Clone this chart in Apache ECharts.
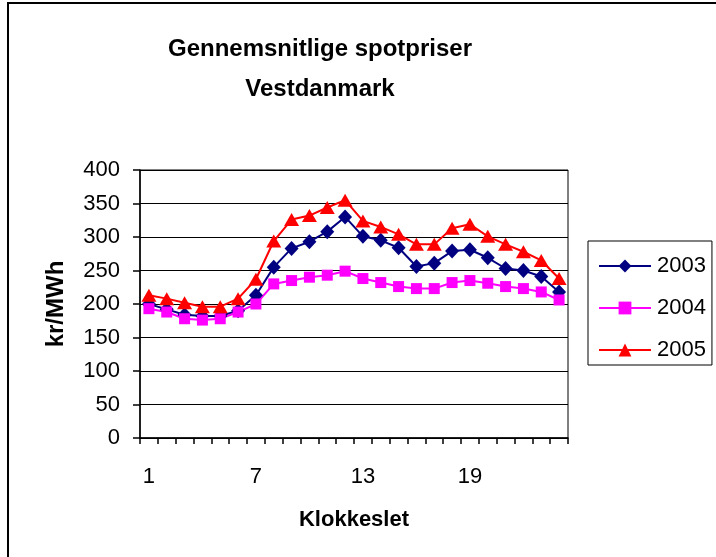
<!DOCTYPE html>
<html>
<head>
<meta charset="utf-8">
<title>Gennemsnitlige spotpriser Vestdanmark</title>
<script src="https://cdn.jsdelivr.net/npm/echarts@6/dist/echarts.min.js"></script>
<style>
  html, body { margin: 0; padding: 0; background: #fff; }
  #main { width: 716px; height: 557px; }
</style>
</head>
<body>
<div id="main"></div>
<script>
// hours of the day
var hours = ['1','2','3','4','5','6','7','8','9','10','11','12','13','14','15','16','17','18','19','20','21','22','23','24']
// kr/MWh
var y2003 = [200, 192, 184, 182, 182, 190, 213, 255, 283, 293, 308, 330, 301, 295, 284, 256, 261, 279, 281, 269, 253, 250, 241, 218]
var y2004 = [193, 188, 178, 176, 178, 188, 200, 230, 235, 240, 243, 249, 238, 232, 226, 223, 223, 232, 235, 231, 226, 223, 218, 206]
var y2005 = [213, 208, 202, 196, 196, 208, 237, 294, 326, 332, 344, 355, 324, 315, 304, 289, 289, 313, 319, 301, 289, 278, 265, 238]

var font = 'Liberation Sans, Arial, sans-serif'

var myChart = echarts.init(document.getElementById('main'))

function line(name, data, color, symbol, size) {
  return {
    name: name,
    type: 'line',
    data: data,
    symbol: symbol,
    symbolSize: size,
    showSymbol: true,
    showAllSymbol: true,
    animation: false,
    lineStyle: { color: color, width: 2 },
    itemStyle: { color: color },
  }
}

myChart.setOption({
  animation: false,
  textStyle: { fontFamily: font },
  title: {
    text: 'Gennemsnitlige spotpriser\nVestdanmark',
    left: 320,
    textAlign: 'center',
    top: 29,
    padding: 0,
    textStyle: { fontFamily: font, fontSize: 24, fontWeight: 'bold', color: '#000', lineHeight: 40 },
  },
  graphic: [
    {
      type: 'rect',
      shape: { x: 8, y: 3, width: 730, height: 580 },
      style: { fill: 'none', stroke: '#000', lineWidth: 2 },
      silent: true,
      z: 0,
    },
  ],
  legend: {
    orient: 'vertical',
    left: 588,
    top: 241,
    width: 127,
    padding: [14, 6, 4, 10],
    itemGap: 20,
    itemWidth: 52,
    itemHeight: 16,
    borderColor: '#000',
    borderWidth: 1,
    data: ['2003', '2004', '2005'],
    textStyle: { fontFamily: font, fontSize: 22, color: '#000', lineHeight: 20, padding: [0, 0, 0, 1] },
  },
  grid: {
    left: 140,
    right: 148,
    top: 170,
    bottom: 119,
    show: true,
    borderColor: '#000',
    borderWidth: 1,
    containLabel: false,
    outerBoundsMode: 'none',
  },
  xAxis: {
    type: 'category',
    data: hours,
    boundaryGap: true,
    name: 'Klokkeslet',
    nameLocation: 'middle',
    nameGap: 71,
    nameTextStyle: { fontFamily: font, fontSize: 22, fontWeight: 'bold', color: '#000' },
    axisLine: { lineStyle: { color: '#000', width: 1.5 } },
    axisTick: { show: true, interval: 0, length: 6, inside: false, lineStyle: { color: '#000', width: 1.5 } },
    axisLabel: { interval: 5, margin: 28, fontFamily: font, fontSize: 22, color: '#000' },
    splitLine: { show: false },
  },
  yAxis: {
    type: 'value',
    min: 0,
    max: 400,
    interval: 50,
    name: 'kr/MWh',
    nameLocation: 'middle',
    nameRotate: 90,
    nameGap: 72,
    nameTextStyle: { fontFamily: font, fontSize: 24, fontWeight: 'bold', color: '#000' },
    axisLine: { show: true, lineStyle: { color: '#000', width: 1.5 } },
    axisTick: { show: true, length: 7, inside: false, lineStyle: { color: '#000', width: 1.5 } },
    axisLabel: { margin: 20, fontFamily: font, fontSize: 22, color: '#000' },
    splitLine: { show: true, lineStyle: { color: '#000', width: 1.2 } },
  },
  series: [
    line('2003', y2003, '#000080', 'diamond', [14, 15]),
    line('2004', y2004, '#FF00FF', 'rect', 11),
    line('2005', y2005, '#FF0000', 'triangle', [15, 13]),
  ],
})
</script>
</body>
</html>
